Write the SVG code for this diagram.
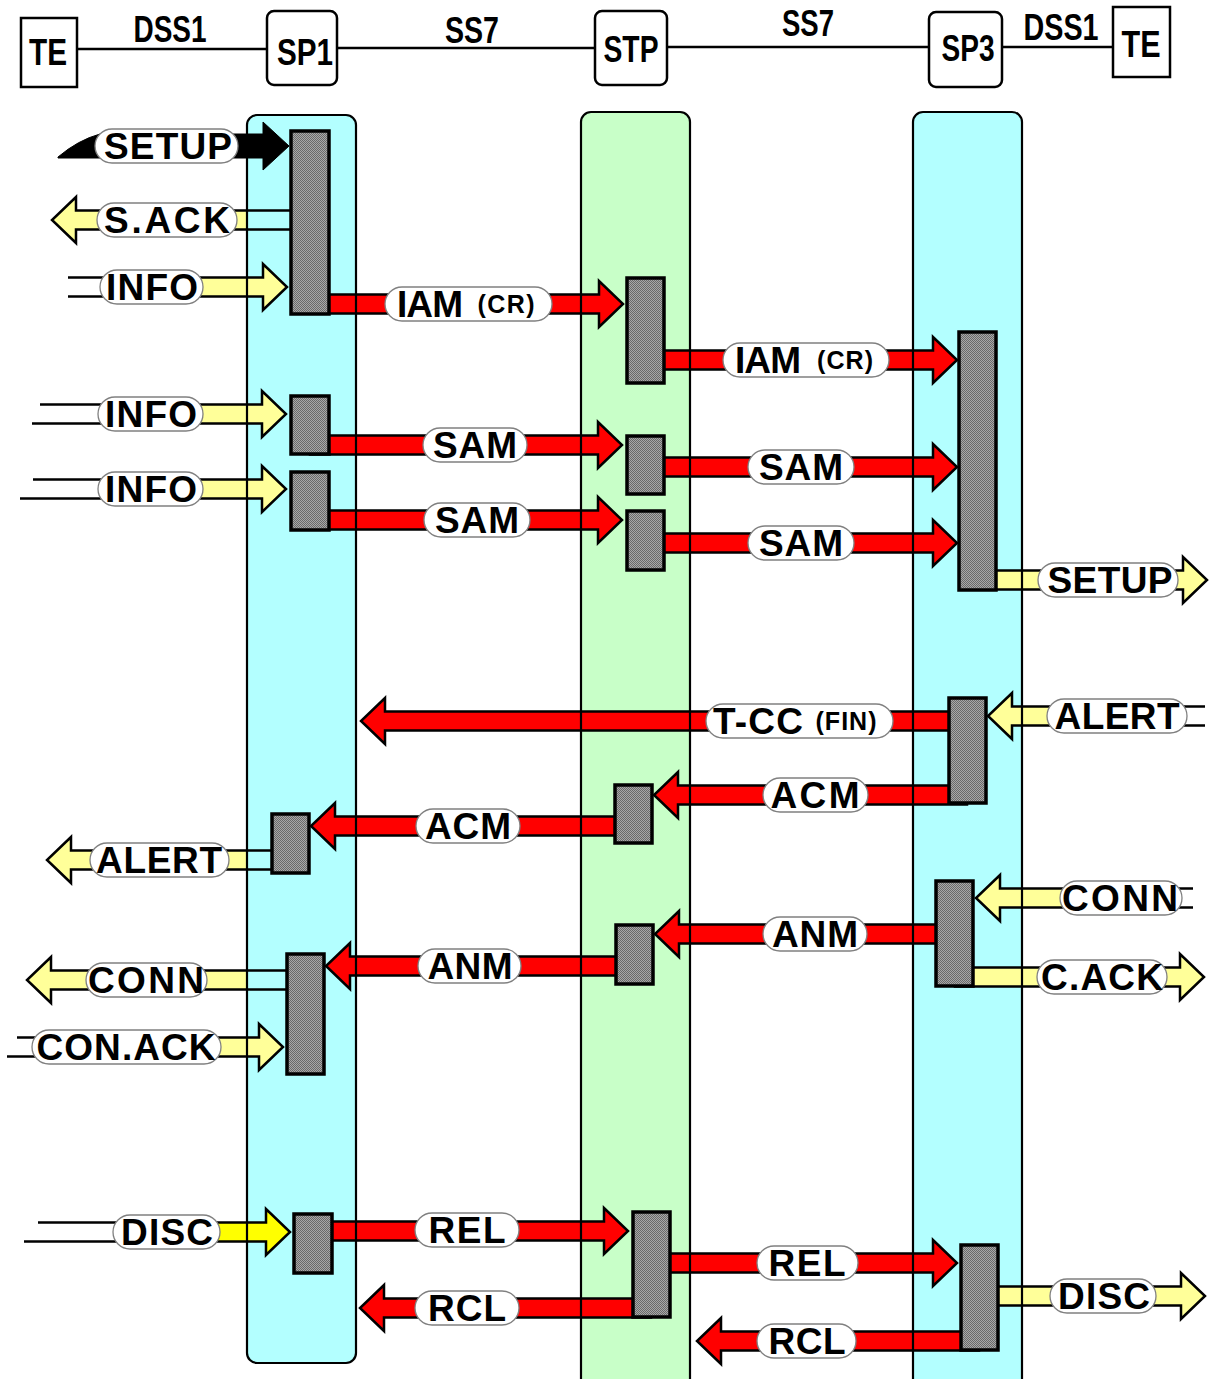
<svg xmlns="http://www.w3.org/2000/svg" width="1211" height="1379" viewBox="0 0 1211 1379">
<defs>
<pattern id="dither" width="2" height="2" patternUnits="userSpaceOnUse">
<rect width="2" height="2" fill="#a8a8a8"/>
<rect width="1" height="1" fill="#6a6a6a"/>
<rect x="1" y="1" width="1" height="1" fill="#6a6a6a"/>
</pattern>
<style>
.hdr{font-family:"Liberation Sans",Arial,sans-serif;font-weight:bold;font-size:36px;text-anchor:middle;fill:#000}
.box{fill:#fff;stroke:#000;stroke-width:2.5}
.link{stroke:#000;stroke-width:2.5;fill:none}
.lane1{fill:#b3ffff}
.lane2{fill:#c8ffc8}
.laneb{fill:none;stroke:#000;stroke-width:2.2}
.bar{fill:url(#dither);stroke:#000;stroke-width:3.5}
.red{fill:#ff0000;stroke:#000;stroke-width:2.5;stroke-linejoin:miter}
.yel{fill:#ffff99;stroke:#000;stroke-width:2.5;stroke-linejoin:miter}
.yel2{fill:#ffff00;stroke:#000;stroke-width:2.5;stroke-linejoin:miter}
.blk{fill:#000;stroke:#000;stroke-width:1}
.ln{fill:none;stroke:#000;stroke-width:2.5}
.pill{fill:#fff;stroke:#808080;stroke-width:1.3}
.t{font-family:"Liberation Sans",Arial,sans-serif;font-weight:bold;font-size:37px;text-anchor:middle;fill:#000}
.s{font-family:"Liberation Sans",Arial,sans-serif;font-weight:bold;font-size:25px;text-anchor:middle;fill:#000}
</style>
</defs>
<rect width="1211" height="1379" fill="#fff"/>

<!-- header links -->
<g id="header-links">
<line class="link" x1="77" y1="49" x2="267" y2="49"/>
<line class="link" x1="337" y1="48" x2="595" y2="48"/>
<line class="link" x1="667" y1="47" x2="929" y2="47"/>
<line class="link" x1="1002" y1="47" x2="1113" y2="47"/>
<text class="hdr" x="170" y="42" textLength="73" lengthAdjust="spacingAndGlyphs">DSS1</text>
<text class="hdr" x="472" y="43" textLength="54" lengthAdjust="spacingAndGlyphs">SS7</text>
<text class="hdr" x="808" y="36" textLength="52" lengthAdjust="spacingAndGlyphs">SS7</text>
<text class="hdr" x="1061" y="40" textLength="75" lengthAdjust="spacingAndGlyphs">DSS1</text>
</g>
<g id="TE-left"><rect class="box" x="21" y="18" width="56" height="69"/><text class="hdr" x="48" y="65" textLength="38" lengthAdjust="spacingAndGlyphs">TE</text></g>
<g id="SP1"><rect class="box" x="267" y="11" width="70" height="74" rx="7"/><text class="hdr" x="305" y="65" textLength="56" lengthAdjust="spacingAndGlyphs">SP1</text></g>
<g id="STP"><rect class="box" x="595" y="11" width="72" height="74" rx="7"/><text class="hdr" x="631" y="62" textLength="55" lengthAdjust="spacingAndGlyphs">STP</text></g>
<g id="SP3"><rect class="box" x="929" y="12" width="73" height="75" rx="7"/><text class="hdr" x="968" y="61" textLength="53" lengthAdjust="spacingAndGlyphs">SP3</text></g>
<g id="TE-right"><rect class="box" x="1113" y="7" width="57" height="70"/><text class="hdr" x="1141" y="57" textLength="39" lengthAdjust="spacingAndGlyphs">TE</text></g>

<!-- lanes fill -->
<g id="lane-fills">
<rect class="lane1" x="247" y="115" width="109" height="1248" rx="10"/>
<rect class="lane2" x="581" y="112" width="109" height="1290" rx="10"/>
<rect class="lane1" x="913" y="112" width="109" height="1290" rx="10"/>
</g>

<g id="connectors">
<!-- SETUP left (black) -->
<path class="blk" d="M58,157 Q78,140 100,134 H263 V122 L289,146 L263,170 V158 H58 Z"/>
<rect class="pill" x="95" y="129" width="143" height="34" rx="17"/>
<text class="t" x="168" y="159" textLength="128" lengthAdjust="spacing">SETUP</text>

<!-- S.ACK -->
<path class="yel" d="M247,210.5 H76 V197 L52,220 L76,243 V229.5 H247"/>
<path class="ln" d="M247,210.5 H291 M247,229.5 H291"/>
<rect class="pill" x="97" y="203" width="140" height="34" rx="17"/>
<text class="t" x="167" y="233" textLength="126" lengthAdjust="spacing">S.ACK</text>

<!-- INFO 1 -->
<path class="yel" d="M150,277.5 H263 V264 L287,287 L263,310 V296.5 H150 Z"/>
<path class="ln" d="M68,277.5 H150 M68,296.5 H150"/>
<rect class="pill" x="100" y="270" width="103" height="34" rx="17"/>
<text class="t" x="152" y="300" textLength="92" lengthAdjust="spacing">INFO</text>

<!-- IAM 1 -->
<path class="red" d="M310,294.5 H599 V281 L623,304 L599,327 V313.5 H310 Z"/>
<rect class="pill" x="385" y="287" width="167" height="34" rx="17"/>
<text class="t" x="430" y="317" textLength="66" lengthAdjust="spacing">IAM</text>
<text class="s" x="506" y="313" textLength="57" lengthAdjust="spacing">(CR)</text>

<!-- IAM 2 -->
<path class="red" d="M645,350.5 H933 V337 L957,360 L933,383 V369.5 H645 Z"/>
<rect class="pill" x="723" y="343" width="166" height="34" rx="17"/>
<text class="t" x="768" y="373" textLength="66" lengthAdjust="spacing">IAM</text>
<text class="s" x="845" y="369" textLength="56" lengthAdjust="spacing">(CR)</text>

<!-- INFO 2 -->
<path class="yel" d="M150,404.5 H262 V391 L286,414 L262,437 V423.5 H150 Z"/>
<path class="ln" d="M40,404.5 H150 M32,423.5 H150"/>
<rect class="pill" x="98" y="397" width="105" height="34" rx="17"/>
<text class="t" x="151" y="427" textLength="92" lengthAdjust="spacing">INFO</text>

<!-- INFO 3 -->
<path class="yel" d="M150,479.5 H262 V466 L286,489 L262,512 V498.5 H150 Z"/>
<path class="ln" d="M33,479.5 H150 M20,498.5 H150"/>
<rect class="pill" x="98" y="472" width="105" height="34" rx="17"/>
<text class="t" x="151" y="502" textLength="92" lengthAdjust="spacing">INFO</text>

<!-- SAM 1..4 -->
<path class="red" d="M310,435.5 H598 V422 L622,445 L598,468 V454.5 H310 Z"/>
<rect class="pill" x="423" y="428" width="104" height="34" rx="17"/>
<text class="t" x="475" y="458" textLength="84" lengthAdjust="spacing">SAM</text>

<path class="red" d="M310,510.5 H598 V497 L622,520 L598,543 V529.5 H310 Z"/>
<rect class="pill" x="424" y="503" width="106" height="34" rx="17"/>
<text class="t" x="477" y="533" textLength="84" lengthAdjust="spacing">SAM</text>

<path class="red" d="M645,457.5 H933 V444 L957,467 L933,490 V476.5 H645 Z"/>
<rect class="pill" x="748" y="450" width="106" height="34" rx="17"/>
<text class="t" x="801" y="480" textLength="84" lengthAdjust="spacing">SAM</text>

<path class="red" d="M645,533.5 H933 V520 L957,543 L933,566 V552.5 H645 Z"/>
<rect class="pill" x="748" y="526" width="106" height="34" rx="17"/>
<text class="t" x="801" y="556" textLength="84" lengthAdjust="spacing">SAM</text>

<!-- SETUP right -->
<path class="yel" d="M978,570.5 H1183 V557 L1207,580 L1183,603 V589.5 H978 Z"/>
<rect class="pill" x="1038" y="563" width="140" height="34" rx="17"/>
<text class="t" x="1110" y="593" textLength="125" lengthAdjust="spacing">SETUP</text>

<!-- ALERT right -->
<path class="yel" d="M1110,706.5 H1012 V693 L988,716 L1012,739 V725.5 H1110 Z"/>
<path class="ln" d="M1110,706.5 H1205 M1110,725.5 H1205"/>
<rect class="pill" x="1047" y="699" width="140" height="34" rx="17"/>
<text class="t" x="1117" y="729" textLength="125" lengthAdjust="spacing">ALERT</text>

<!-- T-CC (FIN) -->
<path class="red" d="M967,711.5 H385 V698 L361,721 L385,744 V730.5 H967 Z"/>
<rect class="pill" x="706" y="704" width="187" height="34" rx="17"/>
<text class="t" x="758" y="734" textLength="90" lengthAdjust="spacing">T-CC</text>
<text class="s" x="846" y="730" textLength="61" lengthAdjust="spacing">(FIN)</text>

<!-- ACM 1 -->
<path class="red" d="M967,785.5 H678 V772 L654,795 L678,818 V804.5 H967 Z"/>
<rect class="pill" x="763" y="778" width="105" height="34" rx="17"/>
<text class="t" x="815" y="808" textLength="89" lengthAdjust="spacing">ACM</text>

<!-- ACM 2 -->
<path class="red" d="M633,816.5 H335 V803 L311,826 L335,849 V835.5 H633 Z"/>
<rect class="pill" x="416" y="809" width="104" height="34" rx="17"/>
<text class="t" x="468" y="839" textLength="86" lengthAdjust="spacing">ACM</text>

<!-- ALERT left -->
<path class="yel" d="M247,850.5 H71 V837 L47,860 L71,883 V869.5 H247"/>
<path class="ln" d="M247,850.5 H274 M247,869.5 H274"/>
<rect class="pill" x="90" y="843" width="139" height="34" rx="17"/>
<text class="t" x="159" y="873" textLength="126" lengthAdjust="spacing">ALERT</text>

<!-- CONN right -->
<path class="yel" d="M1120,888.5 H1000 V875 L976,898 L1000,921 V907.5 H1120 Z"/>
<path class="ln" d="M1120,888.5 H1193 M1120,907.5 H1193"/>
<rect class="pill" x="1060" y="881" width="122" height="34" rx="17"/>
<text class="t" x="1120" y="911" textLength="116" lengthAdjust="spacing">CONN</text>

<!-- C.ACK -->
<path class="yel" d="M955,967.5 H1180 V954 L1204,977 L1180,1000 V986.5 H955 Z"/>
<rect class="pill" x="1037" y="960" width="130" height="34" rx="17"/>
<text class="t" x="1102" y="990" textLength="122" lengthAdjust="spacing">C.ACK</text>

<!-- ANM 1 -->
<path class="red" d="M954,924.5 H679 V911 L655,934 L679,957 V943.5 H954 Z"/>
<rect class="pill" x="763" y="917" width="104" height="34" rx="17"/>
<text class="t" x="815" y="947" textLength="86" lengthAdjust="spacing">ANM</text>

<!-- ANM 2 -->
<path class="red" d="M634,956.5 H350 V943 L326,966 L350,989 V975.5 H634 Z"/>
<rect class="pill" x="418" y="949" width="103" height="34" rx="17"/>
<text class="t" x="470" y="979" textLength="85" lengthAdjust="spacing">ANM</text>

<!-- CONN left -->
<path class="yel" d="M247,970.5 H51 V957 L27,980 L51,1003 V989.5 H247"/>
<path class="ln" d="M247,970.5 H289 M247,989.5 H289"/>
<rect class="pill" x="86" y="963" width="121" height="34" rx="17"/>
<text class="t" x="146" y="993" textLength="116" lengthAdjust="spacing">CONN</text>

<!-- CON.ACK -->
<path class="yel" d="M120,1037.5 H259 V1024 L283,1047 L259,1070 V1056.5 H120 Z"/>
<path class="ln" d="M17,1037.5 H120 M7,1056.5 H120"/>
<rect class="pill" x="32" y="1030" width="189" height="34" rx="17"/>
<text class="t" x="126" y="1060" textLength="179" lengthAdjust="spacing">CON.ACK</text>

<!-- DISC left -->
<path class="yel2" d="M160,1222.5 H266 V1209 L290,1232 L266,1255 V1241.5 H160 Z"/>
<path class="ln" d="M38,1222.5 H160 M24,1241.5 H160"/>
<rect class="pill" x="113" y="1215" width="107" height="34" rx="17"/>
<text class="t" x="167" y="1245" textLength="92" lengthAdjust="spacing">DISC</text>

<!-- REL 1 -->
<path class="red" d="M313,1221.5 H604 V1208 L628,1231 L604,1254 V1240.5 H313 Z"/>
<rect class="pill" x="415" y="1213" width="104" height="34" rx="17"/>
<text class="t" x="467" y="1243" textLength="77" lengthAdjust="spacing">REL</text>

<!-- RCL 1 -->
<path class="red" d="M651,1298.5 H384 V1285 L360,1308 L384,1331 V1317.5 H651 Z"/>
<rect class="pill" x="415" y="1291" width="104" height="34" rx="17"/>
<text class="t" x="467" y="1321" textLength="78" lengthAdjust="spacing">RCL</text>

<!-- REL 2 -->
<path class="red" d="M651,1253.5 H933 V1240 L957,1263 L933,1286 V1272.5 H651 Z"/>
<rect class="pill" x="757" y="1246" width="101" height="34" rx="17"/>
<text class="t" x="807" y="1276" textLength="77" lengthAdjust="spacing">REL</text>

<!-- RCL 2 -->
<path class="red" d="M979,1331.5 H721 V1318 L697,1341 L721,1364 V1350.5 H979 Z"/>
<rect class="pill" x="757" y="1324" width="99" height="34" rx="17"/>
<text class="t" x="807" y="1354" textLength="77" lengthAdjust="spacing">RCL</text>

<!-- DISC right -->
<path class="yel" d="M980,1286.5 H1181 V1273 L1205,1296 L1181,1319 V1305.5 H980 Z"/>
<rect class="pill" x="1050" y="1279" width="106" height="34" rx="17"/>
<text class="t" x="1104" y="1309" textLength="92" lengthAdjust="spacing">DISC</text>
</g>

<!-- lane borders -->
<g id="lane-borders">
<rect class="laneb" x="247" y="115" width="109" height="1248" rx="10"/>
<rect class="laneb" x="581" y="112" width="109" height="1290" rx="10"/>
<rect class="laneb" x="913" y="112" width="109" height="1290" rx="10"/>
</g>

<!-- activation bars -->
<g id="bars">
<rect id="sp1-b1" class="bar" x="291" y="131" width="38" height="183"/>
<rect id="stp-b1" class="bar" x="627" y="278" width="37" height="105"/>
<rect id="sp3-b1" class="bar" x="959" y="332" width="37" height="258"/>
<rect id="sp1-b2" class="bar" x="291" y="396" width="38" height="58"/>
<rect id="sp1-b3" class="bar" x="291" y="472" width="38" height="58"/>
<rect id="stp-b2" class="bar" x="627" y="436" width="37" height="58"/>
<rect id="stp-b3" class="bar" x="627" y="511" width="37" height="59"/>
<rect id="sp3-b2" class="bar" x="949" y="698" width="37" height="105"/>
<rect id="stp-b4" class="bar" x="615" y="785" width="37" height="58"/>
<rect id="sp1-b4" class="bar" x="272" y="814" width="37" height="59"/>
<rect id="sp3-b3" class="bar" x="936" y="881" width="37" height="105"/>
<rect id="stp-b5" class="bar" x="616" y="925" width="37" height="59"/>
<rect id="sp1-b5" class="bar" x="287" y="954" width="37" height="120"/>
<rect id="sp1-b6" class="bar" x="294" y="1214" width="38" height="59"/>
<rect id="stp-b6" class="bar" x="633" y="1212" width="37" height="105"/>
<rect id="sp3-b4" class="bar" x="961" y="1245" width="37" height="105"/>
</g>
</svg>
